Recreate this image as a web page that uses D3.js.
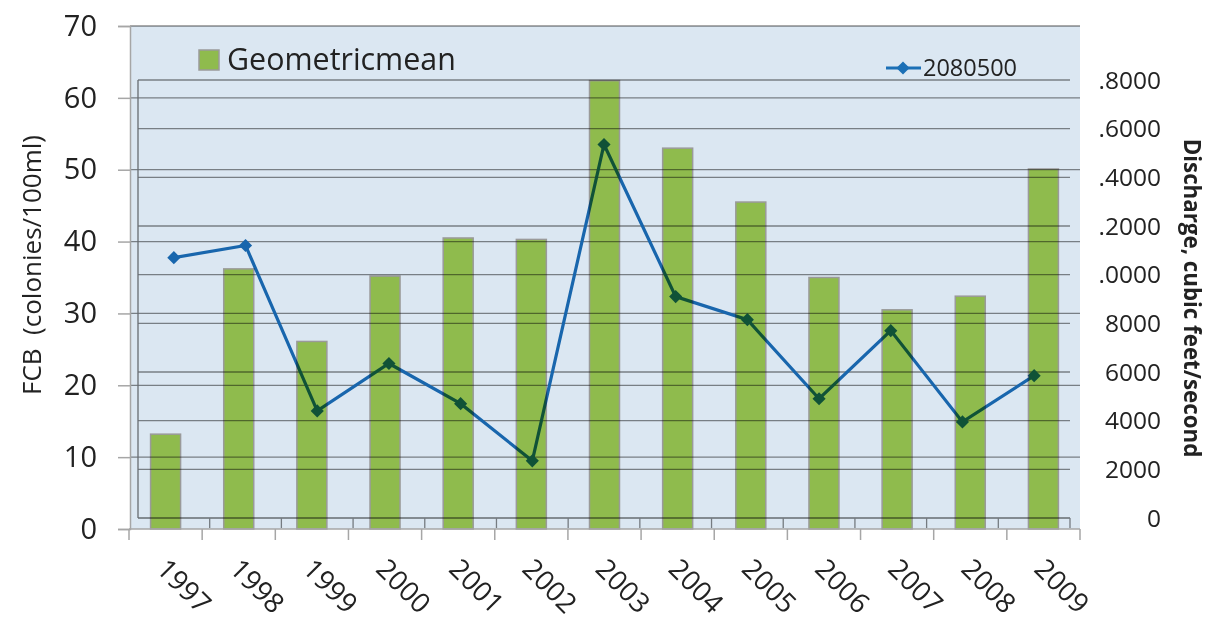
<!DOCTYPE html>
<html>
<head>
<meta charset="utf-8">
<script src="https://cdn.jsdelivr.net/npm/d3@7"></script>
<style>
  body { margin: 0; background: #fff; }
  svg { font-family: "Open Sans", sans-serif; }
  .mul { mix-blend-mode: multiply; }
</style>
</head>
<body>
<svg id="chart" width="1209" height="623"></svg>
<script>
const years = ["1997","1998","1999","2000","2001","2002","2003","2004","2005","2006","2007","2008","2009"];
const geoMean = [13.2, 36.2, 26.1, 35.2, 40.5, 40.3, 62.4, 53.0, 45.5, 35.0, 30.5, 32.4, 50.1];
const discharge = [10700, 11200, 4400, 6350, 4700, 2350, 15350, 9100, 8150, 4900, 7700, 3950, 5850];
const leftTicks = [0, 10, 20, 30, 40, 50, 60, 70];
const rightTicks = [0, 2000, 4000, 6000, 8000, 10000, 12000, 14000, 16000, 18000];
const rightTickLabels = ["0", "2000", "4000", "6000", "8000", ".0000", ".2000", ".4000", ".6000", ".8000"];

const svg = d3.select("#chart");

// left chart (bars)
const xL = d3.scaleBand().domain(years).range([129, 1080]);
const yL = d3.scaleLinear().domain([0, 70]).range([529, 26]);
// right chart (line), slightly offset plot area
const xR = d3.scaleBand().domain(years).range([138, 1070]);
const yR = d3.scaleLinear().domain([0, 18000]).range([518, 80]);

svg.append("rect")
  .attr("x", 130).attr("y", 26)
  .attr("width", 950).attr("height", 503)
  .attr("fill", "#dbe7f2");

// bars
svg.append("g")
  .selectAll("rect")
  .data(years)
  .enter()
  .append("rect")
    .attr("x", (d, i) => xL(d) + xL.bandwidth() / 2 - 15)
    .attr("y", (d, i) => yL(geoMean[i]))
    .attr("width", 30)
    .attr("height", (d, i) => yL(0) - yL(geoMean[i]))
    .attr("fill", "#8fbb4d")
    .attr("stroke", "#9a9a9a")
    .attr("stroke-width", 1.5);

const over = svg.append("g").attr("class", "mul");

// left gridlines
over.append("g")
  .selectAll("line")
  .data(leftTicks.slice(1))
  .enter()
  .append("line")
    .attr("x1", 130).attr("x2", 1080)
    .attr("y1", d => yL(d)).attr("y2", d => yL(d))
    .attr("stroke", "#8c8c8c").attr("stroke-width", 1.3);

// right gridlines
over.append("g")
  .selectAll("line")
  .data(rightTicks.slice(1))
  .enter()
  .append("line")
    .attr("x1", 138).attr("x2", 1070)
    .attr("y1", d => yR(d)).attr("y2", d => yR(d))
    .attr("stroke", "#8c8c8c").attr("stroke-width", 1.3);

// right chart axes
over.append("line")
  .attr("x1", 138).attr("x2", 138).attr("y1", 80).attr("y2", 518)
  .attr("stroke", "#777").attr("stroke-width", 1.3);
over.append("line")
  .attr("x1", 138).attr("x2", 1070).attr("y1", 518).attr("y2", 518)
  .attr("stroke", "#777").attr("stroke-width", 1.3);
over.append("g")
  .selectAll("line")
  .data(years.slice(1).concat(["end"]))
  .enter()
  .append("line")
    .attr("x1", d => d === "end" ? 1070 : xR(d)).attr("x2", d => d === "end" ? 1070 : xR(d))
    .attr("y1", 518).attr("y2", 528)
    .attr("stroke", "#888").attr("stroke-width", 1.3);

// left chart axes
const yAxis = d3.axisLeft(yL).tickValues(leftTicks).tickSize(12).tickPadding(21);
const gy = svg.append("g").attr("transform", "translate(130,0)").call(yAxis);
gy.select(".domain").attr("stroke", "#a6a6a6").attr("stroke-width", 1.5);
gy.selectAll(".tick line").attr("stroke", "#a6a6a6").attr("stroke-width", 1.5);
gy.selectAll(".tick text").attr("font-size", 29).attr("fill", "#222").attr("font-family", "'Open Sans', sans-serif");

const xAxis = d3.axisBottom(xL).tickSize(0).tickFormat("");
const gx = svg.append("g").attr("transform", "translate(0,529)").call(xAxis);
gx.select(".domain").remove();
gx.append("line").attr("x1", 129).attr("x2", 1080).attr("stroke", "#a6a6a6").attr("stroke-width", 1.5);
gx.append("g")
  .selectAll("line")
  .data(years.concat(["end"]))
  .enter()
  .append("line")
    .attr("x1", d => d === "end" ? 1080 : xL(d)).attr("x2", d => d === "end" ? 1080 : xL(d))
    .attr("y1", 0).attr("y2", 11)
    .attr("stroke", "#a6a6a6").attr("stroke-width", 1.5);

// year labels
svg.append("g")
  .selectAll("text")
  .data(years)
  .enter()
  .append("text")
    .attr("transform", d => "translate(" + (xL(d) + xL.bandwidth() / 2 + 4) + ",556) rotate(45)")
    .attr("dy", "0.75em")
    .attr("font-size", 27.5)
    .attr("fill", "#222")
    .text(d => d);

// discharge line
const line = d3.line()
  .x((d, i) => xR(years[i]) + xR.bandwidth() / 2)
  .y(d => yR(d));

over.append("path")
  .datum(discharge)
  .attr("d", line)
  .attr("fill", "none")
  .attr("stroke", "#1c70b6")
  .attr("stroke-width", 3.2);

over.append("g")
  .selectAll("path")
  .data(discharge)
  .enter()
  .append("path")
    .attr("d", d3.symbol().type(d3.symbolDiamond2).size(110))
    .attr("transform", (d, i) => "translate(" + (xR(years[i]) + xR.bandwidth() / 2) + "," + yR(d) + ")")
    .attr("fill", "#1c70b6");

// right axis labels
svg.append("g")
  .selectAll("text")
  .data(rightTicks)
  .enter()
  .append("text")
    .attr("x", 1161)
    .attr("y", d => yR(d))
    .attr("dy", "0.35em")
    .attr("text-anchor", "end")
    .attr("font-size", 24.5)
    .attr("fill", "#222")
    .text((d, i) => rightTickLabels[i]);

// axis titles
svg.append("text")
  .attr("transform", "translate(41,265) rotate(-90)")
  .attr("text-anchor", "middle")
  .attr("font-size", 26)
  .attr("fill", "#222")
  .attr("xml:space", "preserve")
  .text("FCB  (colonies/100ml)");

svg.append("text")
  .attr("transform", "translate(1184,298) rotate(90)")
  .attr("text-anchor", "middle")
  .attr("font-size", 22.3)
  .attr("font-weight", "bold")
  .attr("fill", "#222")
  .text("Discharge, cubic feet/second");

// legends
svg.append("rect")
  .attr("x", 199).attr("y", 50).attr("width", 20).attr("height", 20)
  .attr("fill", "#8fbb4d").attr("stroke", "#9a9a9a").attr("stroke-width", 1.5);
svg.append("text")
  .attr("x", 227).attr("y", 70)
  .attr("font-size", 30.4)
  .attr("fill", "#222")
  .text("Geometricmean");

svg.append("line")
  .attr("x1", 886).attr("x2", 921).attr("y1", 68).attr("y2", 68)
  .attr("stroke", "#1c70b6").attr("stroke-width", 3);
svg.append("path")
  .attr("d", d3.symbol().type(d3.symbolDiamond2).size(110))
  .attr("transform", "translate(903,68)")
  .attr("fill", "#1c70b6");
svg.append("text")
  .attr("x", 923).attr("y", 76)
  .attr("font-size", 23.5)
  .attr("fill", "#222")
  .text("2080500");
</script>
</body>
</html>
